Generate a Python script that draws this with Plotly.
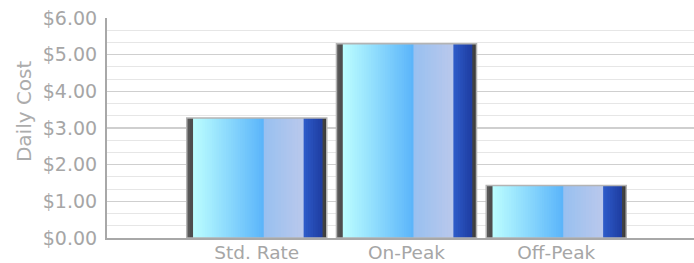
import plotly.graph_objects as go

categories = ["Std. Rate", "On-Peak", "Off-Peak"]
daily_cost = [3.27, 5.30, 1.43]
y_tick_vals = [0, 1, 2, 3, 4, 5, 6]
y_tick_text = ["$0.00", "$1.00", "$2.00", "$3.00", "$4.00", "$5.00", "$6.00"]
y_title = "Daily Cost"

BAR_W = 0.935
# (start fraction, end fraction, start color, end color, slices)
segments = [
    (0.000, 0.045, (0x5e, 0x5e, 0x5e), (0x48, 0x48, 0x48), 2),
    (0.045, 0.550, (0xbc, 0xfe, 0xff), (0x5a, 0xb4, 0xfa), 30),
    (0.550, 0.835, (0x98, 0xc0, 0xf0), (0xba, 0xc8, 0xec), 14),
    (0.835, 0.970, (0x2e, 0x5c, 0xca), (0x1e, 0x3c, 0xa0), 8),
    (0.970, 1.000, (0x44, 0x44, 0x44), (0x38, 0x38, 0x38), 2),
]

fig = go.Figure()
for f0, f1, c0, c1, n in segments:
    for k in range(n):
        t = (k + 0.5) / n
        col = "rgb(%d,%d,%d)" % tuple(round(a + (b - a) * t) for a, b in zip(c0, c1))
        s0 = f0 + (f1 - f0) * k / n
        fig.add_trace(go.Bar(
            x=categories, y=daily_cost,
            offset=-BAR_W / 2 + s0 * BAR_W,
            width=(1 - s0) * BAR_W,
            marker=dict(color=col, line=dict(width=0)),
            hoverinfo="skip", showlegend=False,
        ))

# outline
fig.add_trace(go.Bar(
    x=categories, y=daily_cost, offset=-BAR_W / 2, width=BAR_W,
    marker=dict(color="rgba(0,0,0,0)", line=dict(color="#b4b4b4", width=1.5)),
    showlegend=False, hoverinfo="skip",
))

fig.add_annotation(
    text=y_title, textangle=-90, xref="paper", yref="paper",
    x=-0.1414, y=0.577, xanchor="center", yanchor="middle", showarrow=False,
    font=dict(size=20, color="#acacac"),
)

fig.update_layout(
    width=694, height=263,
    margin=dict(l=107, r=0, t=18, b=25, autoexpand=False),
    barmode="overlay",
    paper_bgcolor="white", plot_bgcolor="white",
    font=dict(family="DejaVu Sans, Verdana, sans-serif", size=19, color="#a6a6a6"),
    xaxis=dict(
        type="category", range=[-1, 2.92], automargin=False,
        showline=True, linecolor="#a8a8a8", linewidth=2,
        showgrid=False, ticks="", ticklabelstandoff=-3,
        tickfont=dict(size=18.5, color="#a6a6a6"),
        fixedrange=True,
    ),
    yaxis=dict(
        range=[0, 6], tickvals=y_tick_vals, ticktext=y_tick_text, automargin=False,
        showline=True, linecolor="#a8a8a8", linewidth=2,
        showgrid=True, gridcolor="#cfcfcf", gridwidth=1.5,
        minor=dict(dtick=1/3, showgrid=True, gridcolor="#e6e6e6", gridwidth=1),
        ticks="outside", ticklen=4, tickcolor="rgba(0,0,0,0)",
        tickfont=dict(size=19, color="#a6a6a6"),
        zeroline=False,
        fixedrange=True,
    ),
)

fig.write_html(
    "out.html",
    config={"displayModeBar": False, "staticPlot": True},
    post_script="document.body.style.margin='0px';document.body.style.overflow='hidden';",
)
